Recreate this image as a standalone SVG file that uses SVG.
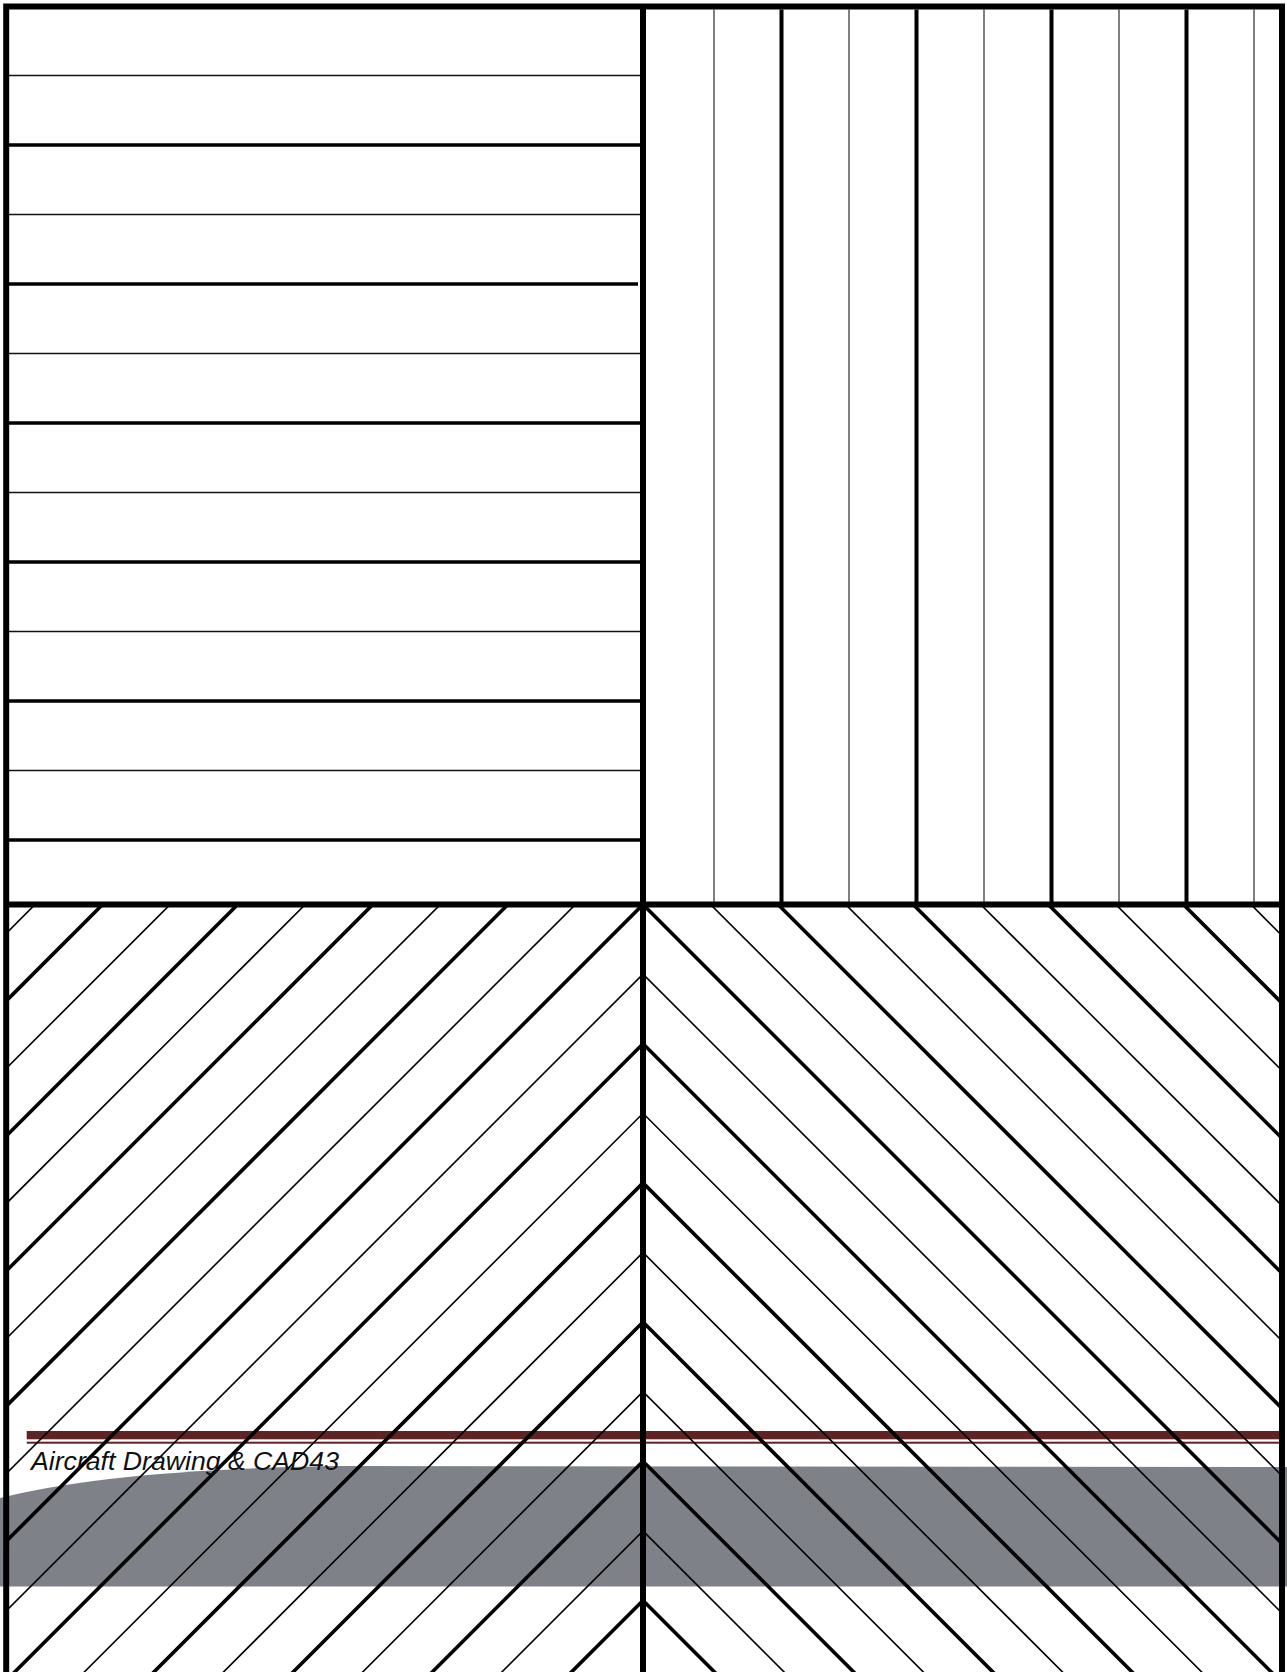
<svg xmlns="http://www.w3.org/2000/svg" width="1287" height="1672" viewBox="0 0 1287 1672">
<style>
.tn{stroke:#111;stroke-width:1.7;fill:none}
.tk{stroke:#000;stroke-width:3.6;fill:none}
.vtn{stroke:#4a4a4a;stroke-width:1.4;fill:none}
.vtk{stroke:#000;stroke-width:4;fill:none}
.dtn{stroke:#000;stroke-width:1.6;fill:none}
.dtk{stroke:#000;stroke-width:3.6;fill:none}
.frame{stroke:#000;stroke-width:6;fill:none}
</style>
<defs>
<clipPath id="cl"><rect x="9" y="907" width="1270" height="780"/></clipPath>
</defs>
<rect width="1287" height="1672" fill="#fff"/>
<g id="overlay">
<path d="M0,1498 Q110,1470 330,1466 L1287,1467 L1287,1586.5 L0,1586.5 Z" fill="#7f8189"/>
<rect x="26.7" y="1431" width="1252.3" height="8.3" fill="#5f2323"/>
<rect x="26.7" y="1441.7" width="1252.3" height="2" fill="#5f2323"/>
</g>
<g id="horizontal-hatch">
<line class="tn" x1="9" y1="75.5" x2="640" y2="75.5"/>
<line class="tk" x1="9" y1="145" x2="640" y2="145"/>
<line class="tn" x1="9" y1="214.5" x2="640" y2="214.5"/>
<line class="tk" x1="9" y1="284" x2="638" y2="284"/>
<line class="tn" x1="9" y1="353.5" x2="640" y2="353.5"/>
<line class="tk" x1="9" y1="423" x2="640" y2="423"/>
<line class="tn" x1="9" y1="492.5" x2="640" y2="492.5"/>
<line class="tk" x1="9" y1="562" x2="640" y2="562"/>
<line class="tn" x1="9" y1="631.5" x2="640" y2="631.5"/>
<line class="tk" x1="9" y1="701" x2="640" y2="701"/>
<line class="tn" x1="9" y1="770.5" x2="640" y2="770.5"/>
<line class="tk" x1="9" y1="840" x2="640" y2="840"/>
</g>
<g id="vertical-hatch">
<line class="vtn" x1="714" y1="9.5" x2="714" y2="902"/>
<line class="vtk" x1="781.5" y1="9.5" x2="781.5" y2="902"/>
<line class="vtn" x1="849" y1="9.5" x2="849" y2="902"/>
<line class="vtk" x1="916.5" y1="9.5" x2="916.5" y2="902"/>
<line class="vtn" x1="984" y1="9.5" x2="984" y2="902"/>
<line class="vtk" x1="1051.5" y1="9.5" x2="1051.5" y2="902"/>
<line class="vtn" x1="1119" y1="9.5" x2="1119" y2="902"/>
<line class="vtk" x1="1186.5" y1="9.5" x2="1186.5" y2="902"/>
<line class="vtn" x1="1254" y1="9.5" x2="1254" y2="902"/>
</g>
<g id="diagonal-hatch" clip-path="url(#cl)">
<line class="dtn" x1="575.45" y1="904.5" x2="-124.55" y2="1604.5"/>
<line class="dtk" x1="507.9" y1="904.5" x2="-192.1" y2="1604.5"/>
<line class="dtn" x1="440.35" y1="904.5" x2="-259.65" y2="1604.5"/>
<line class="dtk" x1="372.8" y1="904.5" x2="-327.2" y2="1604.5"/>
<line class="dtn" x1="305.25" y1="904.5" x2="-394.75" y2="1604.5"/>
<line class="dtk" x1="237.7" y1="904.5" x2="-462.3" y2="1604.5"/>
<line class="dtn" x1="170.15" y1="904.5" x2="-529.85" y2="1604.5"/>
<line class="dtk" x1="102.6" y1="904.5" x2="-597.4" y2="1604.5"/>
<line class="dtn" x1="35.05" y1="904.5" x2="-664.95" y2="1604.5"/>
<line class="dtn" x1="710.55" y1="904.5" x2="1410.55" y2="1604.5"/>
<line class="dtk" x1="778.1" y1="904.5" x2="1478.1" y2="1604.5"/>
<line class="dtn" x1="845.65" y1="904.5" x2="1545.65" y2="1604.5"/>
<line class="dtk" x1="913.2" y1="904.5" x2="1613.2" y2="1604.5"/>
<line class="dtn" x1="980.75" y1="904.5" x2="1680.75" y2="1604.5"/>
<line class="dtk" x1="1048.3" y1="904.5" x2="1748.3" y2="1604.5"/>
<line class="dtn" x1="1115.85" y1="904.5" x2="1815.85" y2="1604.5"/>
<line class="dtk" x1="1183.4" y1="904.5" x2="1883.4" y2="1604.5"/>
<line class="dtn" x1="1250.95" y1="904.5" x2="1950.95" y2="1604.5"/>
<polyline class="dtk" points="-57,1604.5 643,904.5 1343,1604.5"/>
<polyline class="dtn" points="-57,1674.1 643,974.1 1343,1674.1"/>
<polyline class="dtk" points="-57,1743.7 643,1043.7 1343,1743.7"/>
<polyline class="dtn" points="-57,1813.3 643,1113.3 1343,1813.3"/>
<polyline class="dtk" points="-57,1882.9 643,1182.9 1343,1882.9"/>
<polyline class="dtn" points="-57,1952.5 643,1252.5 1343,1952.5"/>
<polyline class="dtk" points="-57,2022.1 643,1322.1 1343,2022.1"/>
<polyline class="dtn" points="-57,2091.7 643,1391.7 1343,2091.7"/>
<polyline class="dtk" points="-57,2161.3 643,1461.3 1343,2161.3"/>
<polyline class="dtn" points="-57,2230.9 643,1530.9 1343,2230.9"/>
<polyline class="dtk" points="-57,2300.5 643,1600.5 1343,2300.5"/>
<polyline class="dtn" points="-57,2370.1 643,1670.1 1343,2370.1"/>
</g>
<g id="frame">
<rect class="frame" x="6.2" y="6.5" width="1275.8" height="1720"/>
<line class="frame" x1="643" y1="6.5" x2="643" y2="1680"/>
<line class="frame" x1="6.2" y1="904.5" x2="1282" y2="904.5"/>
</g>
<g id="caption">
<text x="31" y="1470" font-family="Liberation Sans, Arial, sans-serif" font-style="italic" font-size="25.5" fill="#111" textLength="308" lengthAdjust="spacingAndGlyphs">Aircraft Drawing &amp; CAD43</text>
</g>
</svg>
